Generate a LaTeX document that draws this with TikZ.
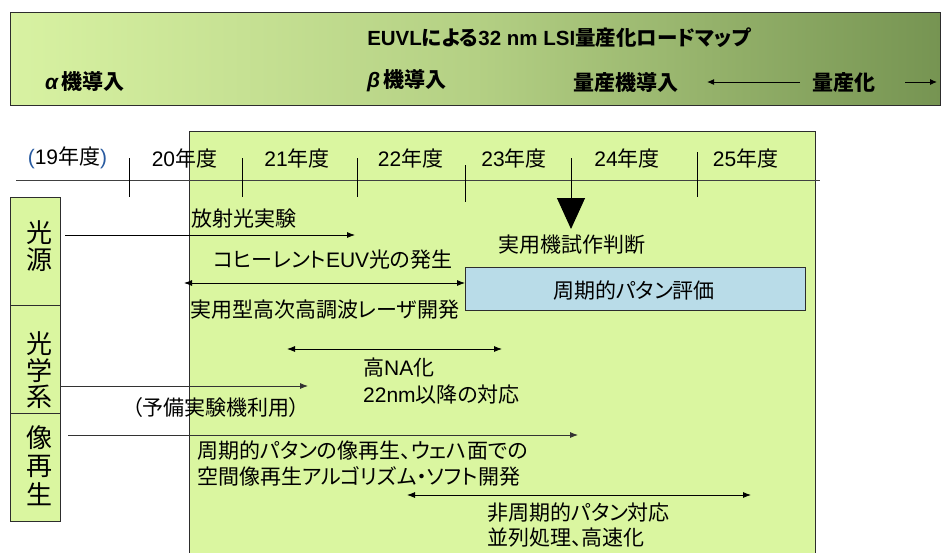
\documentclass[tikz,border=0pt]{standalone}
\usepackage{fontspec}
\setmainfont{Liberation Sans}
\newfontfamily\jp[RawFeature=+palt]{Noto Sans CJK JP}
\newfontfamily\jpside{Noto Sans CJK JP}
\newcommand\lat[1]{{\rmfamily #1}}
\usetikzlibrary{arrows.meta}
\definecolor{lime}{RGB}{218,246,160}
\definecolor{bannerL}{RGB}{216,242,162}
\definecolor{bannerM}{RGB}{180,208,132}
\definecolor{bannerR}{RGB}{118,148,82}
\definecolor{evalblue}{RGB}{185,220,232}
\definecolor{edge}{RGB}{45,45,45}
\definecolor{parenblue}{RGB}{40,90,160}
\tikzset{
  txt/.style={inner sep=0pt, anchor=west, font=\jp\fontsize{21}{24}\selectfont},
  yr/.style={inner sep=0pt, font=\jp\fontsize{21}{24}\selectfont},
  ban/.style={inner sep=0pt, anchor=west, font=\jp\bfseries\fontsize{21}{24}\selectfont},
  side/.style={draw=edge, line width=1pt, fill=lime, minimum width=50pt, minimum height=108pt,
     anchor=north west, inner sep=0pt},
  sidetxt/.style={inner sep=0pt, font=\jpside\fontsize{26}{27}\selectfont},
  arr/.style={draw=black, line width=0.8pt, -{Latex[length=8pt,width=6pt]}},
  darr/.style={draw=black, line width=0.8pt, {Latex[length=8pt,width=6pt]}-{Latex[length=8pt,width=6pt]}},
  tick/.style={draw=black, line width=1pt},
}
\begin{document}
\begin{tikzpicture}[x=1pt,y=-1pt]
\clip (0,0) rectangle (941,552);
\useasboundingbox (0,0) rectangle (941,552);
\fill[white] (0,0) rectangle (941,552);

% banner
\node[draw=edge, line width=1pt, left color=bannerL, right color=bannerR, middle color=bannerM,
      minimum width=930pt, minimum height=93pt, anchor=north west, inner sep=0pt] (banner) at (10,12) {};
\node[inner sep=0pt, font=\jp\bfseries\fontsize{20.5}{24}\selectfont] (title) at (559,38)
  {\lat{EUVL}による\lat{32 nm LSI}量産化ロードマップ};
\node[ban] (alpha) at (45,81) {\lat{\itshape α}\,機導入};
\node[ban] (beta) at (367,81) {\lat{\itshape β}\,機導入};
\node[ban] (mpi) at (573,82) {量産機導入};
\node[ban] (mp) at (812,82) {量産化};
\coordinate (mpL) at (707,82);
\coordinate (mpR) at (937,82);
\draw[line width=1pt, -{Latex[length=7pt,width=6pt]}] ([xshift=-12pt]mp.west) -- (mpL);
\draw[line width=1pt, -{Latex[length=7pt,width=6pt]}] ([xshift=30pt]mp.east) -- (mpR);

% main area
\node[draw=edge, line width=1pt, fill=lime, minimum width=626pt, minimum height=440pt,
      anchor=north west, inner sep=0pt] (main) at (189,131) {};

% timeline
\coordinate (tlA) at (16,180);
\coordinate (tlB) at (820,180);
\draw[draw=black!75, line width=1pt] (tlA) -- (tlB);
\coordinate (t1a) at (129,158); \coordinate (t1b) at (129,197);
\coordinate (t2a) at (242,158); \coordinate (t2b) at (242,197);
\coordinate (t3a) at (357,158); \coordinate (t3b) at (357,197);
\coordinate (t4a) at (465,165); \coordinate (t4b) at (465,202);
\coordinate (t6a) at (697,152); \coordinate (t6b) at (697,197);
\draw[tick] (t1a) -- (t1b);
\draw[tick] (t2a) -- (t2b);
\draw[tick] (t3a) -- (t3b);
\draw[tick] (t4a) -- (t4b);
\draw[tick] (t6a) -- (t6b);
\coordinate (t5a) at (571,158); \coordinate (t5b) at (571,229);
\draw[line width=1pt, -{Triangle[length=31pt,width=28pt]}] (t5a) -- (t5b);

% years
\node[yr] (y19) at (67.5,158) {\textcolor{parenblue}{\lat{(}}\lat{19}年度\textcolor{parenblue}{\lat{)}}};
\node[yr] (y20) at (184.5,158) {\lat{20}年度};
\node[yr] (y21) at (297,158) {\lat{21}年度};
\node[yr] (y22) at (410.5,158) {\lat{22}年度};
\node[yr] (y23) at (514,158) {\lat{23}年度};
\node[yr] (y24) at (627,158) {\lat{24}年度};
\node[yr] (y25) at (745.5,158) {\lat{25}年度};

% side boxes
\node[side] (src) at (10,197) {};
\node[side] (opt) at (10,305) {};
\node[side] (img) at (10,413) {};
\node[sidetxt] (src1) at (40,233) {光};
\node[sidetxt] (src2) at (40,260) {源};
\node[sidetxt] (opt1) at (39,344) {光};
\node[sidetxt] (opt2) at (39,371) {学};
\node[sidetxt] (opt3) at (39,397) {系};
\node[sidetxt] (img1) at (39,438) {像};
\node[sidetxt] (img2) at (39,466) {再};
\node[sidetxt] (img3) at (39,494) {生};

% light source
\node[txt] (l1) at (191,219) {放射光実験};
\coordinate (a1s) at (65,235); \coordinate (a1e) at (355,235);
\draw[arr] (a1s) -- (a1e);
\node[txt] (l2) at (213,260) {コヒーレント\lat{EUV}光の発生};
\node[draw=edge, line width=1pt, fill=evalblue, minimum width=340pt, minimum height=43pt,
      anchor=north west, inner sep=0pt] (eval) at (465,267) {};
\node[inner sep=0pt, font=\jp\fontsize{21}{24}\selectfont] (evalt) at (634,291) {周期的パタン評価};
\coordinate (a2s) at (184,283);
\draw[darr] (a2s) -- (eval.west |- a2s);
\node[txt] (l3) at (190,310) {実用型高次高調波レーザ開発};
\node[txt] (judge) at (498,245) {実用機試作判断};

% optics
\coordinate (a3s) at (287,349); \coordinate (a3e) at (502,349);
\draw[darr] (a3s) -- (a3e);
\node[txt] (l4) at (363,368) {高\lat{NA}化};
\node[txt] (l5) at (363,395) {\lat{22nm}以降の対応};
\coordinate (a4s) at (60,386); \coordinate (a4e) at (308,386);
\draw[arr, draw=black!80] (a4s) -- (a4e);
\node[txt] (l6) at (132,408) {（予備実験機利用）};

% image reconstruction
\coordinate (a5s) at (68,435); \coordinate (a5e) at (578,435);
\draw[arr, draw=black!80] (a5s) -- (a5e);
\node[txt] (l7) at (197,451) {周期的パタンの像再生、ウェハ面での};
\node[txt] (l8) at (197,476) {空間像再生アルゴリズム・ソフト開発};
\coordinate (a6s) at (407,495); \coordinate (a6e) at (751,495);
\draw[darr] (a6s) -- (a6e);
\node[txt] (l9) at (487,513) {非周期的パタン対応};
\node[txt] (l10) at (487,538) {並列処理、高速化};
\end{tikzpicture}
\end{document}
